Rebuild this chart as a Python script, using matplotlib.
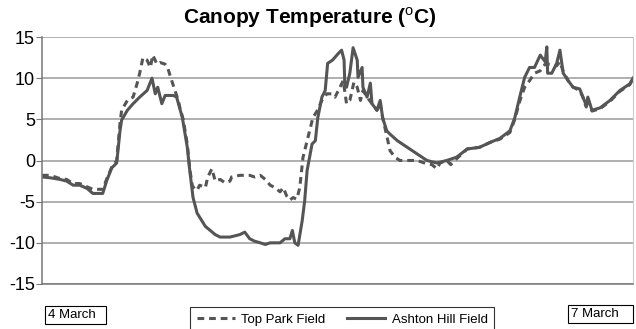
import numpy as np
import matplotlib
matplotlib.use("Agg")
from matplotlib import pyplot as plt

plt.rcParams["font.family"] = "Liberation Sans"
plt.rcParams["mathtext.fontset"] = "custom"
plt.rcParams["mathtext.rm"] = "Liberation Sans"
plt.rcParams["mathtext.bf"] = "Liberation Sans:bold"
plt.rcParams["axes.unicode_minus"] = False

# hours from 4 March 00:00
ashton_t = [0, 1.0, 2.2, 3.0, 3.8, 4.6, 5.5, 6.2, 7.1, 7.4, 7.9, 8.5, 9.1, 9.5, 9.7,
            10.4, 11.1, 11.9, 12.8, 13.4, 13.8, 14.1, 14.6, 15.0, 16.0, 16.4, 17.1,
            17.7, 18.0, 18.4, 18.9, 19.9, 20.5, 21.1, 21.7, 22.9, 24.1, 24.7, 25.3,
            25.9, 26.6, 27.2, 27.8, 29.0, 29.6, 30.2, 30.5, 30.8, 31.2, 31.7, 32.0,
            32.3, 32.9, 33.3, 33.6, 34.1, 34.5, 34.8, 35.4, 36.1, 36.5, 36.8, 36.9,
            37.1, 37.5, 37.9, 38.4, 38.5, 39.0, 39.1, 39.6, 40.0, 40.2, 40.8, 41.2,
            41.5, 42.0, 42.4, 43.3, 44.5, 45.7, 46.9, 48.1, 49.3, 50.5, 51.8, 53.3,
            54.6, 55.8, 57.0, 57.6, 58.2, 58.8, 59.4, 60.0, 60.7, 61.3, 61.5, 61.6,
            62.1, 62.7, 63.1, 63.5, 64.1, 64.7, 65.5, 65.9, 66.3, 66.5, 67.0, 68.0,
            69.2, 70.4, 71.6, 72.0]
ashton = [-2.0, -2.1, -2.3, -2.5, -3.0, -3.0, -3.4, -4.0, -4.0, -4.0, -2.4, -0.9, -0.3, 3.6, 4.9,
          6.1, 6.9, 7.7, 8.5, 10.0, 8.1, 8.9, 6.9, 7.9, 7.9, 7.7, 5.2,
          1.6, -1.2, -4.5, -6.4, -8.0, -8.5, -9.0, -9.3, -9.3, -9.0, -8.7, -9.5,
          -9.8, -10.0, -10.2, -10.0, -10.0, -9.5, -9.5, -8.5, -10.0, -10.3, -7.3, -4.9,
          -1.2, 2.0, 2.4, 5.2, 7.7, 8.5, 11.8, 12.2, 13.0, 13.4, 12.2, 8.9,
          8.9, 10.6, 13.7, 12.2, 10.1, 11.3, 8.9, 7.7, 9.4, 6.9, 6.1, 7.3,
          5.2, 3.6, 3.2, 2.4, 1.6, 0.8, 0.0, -0.3, 0.0, 0.4, 1.4, 1.6,
          2.2, 2.7, 3.6, 5.2, 7.7, 10.1, 11.3, 11.3, 12.8, 12.0, 13.8, 10.6,
          10.6, 11.8, 13.4, 10.6, 9.7, 8.9, 8.7, 7.7, 6.7, 7.7, 6.1, 6.4,
          7.3, 8.5, 9.3, 10.0]

toppark_t = [0, 1.0, 2.2, 3.0, 3.8, 4.6, 5.5, 6.2, 7.1, 7.4, 7.9, 8.5, 9.1, 9.5, 9.7,
             10.4, 11.1, 11.6, 11.9, 12.3, 12.8, 13.2, 13.5, 14.0, 14.4, 15.0, 15.3,
             15.8, 16.2, 16.6, 16.8, 17.2, 17.7, 18.0, 18.3, 18.6, 18.9, 19.2, 19.9,
             20.2, 20.7, 21.1, 21.7, 22.3, 22.9, 23.1, 24.1, 25.3, 25.9, 26.6, 27.2,
             27.8, 28.4, 29.0, 29.4, 29.8, 30.2, 30.6, 31.0, 31.1, 31.4, 31.8, 32.3,
             32.6, 33.0, 33.5, 34.1, 34.7, 35.3, 35.7, 36.1, 36.7, 37.1, 37.5, 38.0,
             38.4, 38.8, 39.1, 39.6, 40.2, 40.8, 41.2, 41.5, 42.0, 42.4, 43.0, 43.6,
             44.5, 45.7, 46.9, 47.5, 48.1, 48.5, 49.3, 49.8, 50.5, 51.8, 53.3, 54.6,
             55.8, 57.0, 57.6, 58.2, 58.8, 59.4, 60.0, 60.7, 61.3, 62.1, 62.7, 63.1,
             63.5, 64.1, 64.7, 65.5, 65.9, 66.3, 66.5, 67.0, 68.0, 69.2, 70.4, 71.6,
             72.0]
toppark = [-1.8, -1.8, -2.2, -2.3, -2.8, -2.8, -3.2, -3.5, -3.5, -3.5, -2.2, -0.8, 0.0, 4.5, 6.1,
           7.3, 7.7, 9.4, 10.6, 12.5, 12.2, 11.3, 12.8, 11.7, 11.9, 11.7, 11.3,
           9.7, 8.5, 7.3, 6.4, 5.0, 2.0, -1.0, -3.0, -3.5, -3.6, -3.0, -3.3,
           -2.0, -1.0, -2.5, -2.3, -2.7, -2.5, -2.0, -1.8, -1.8, -2.0, -1.8, -2.3,
           -3.0, -3.3, -3.8, -3.3, -4.3, -4.8, -4.5, -4.7, -4.5, -3.3, 0.4, 2.4,
           3.6, 5.2, 6.0, 7.3, 8.1, 8.1, 7.7, 8.5, 9.7, 6.9, 7.3, 9.5,
           8.9, 7.3, 8.5, 7.7, 6.9, 6.1, 7.0, 5.2, 3.0, 1.2, 0.4, 0.0,
           0.0, 0.0, -0.4, -0.5, -1.0, -0.3, 0.0, -0.5, 0.2, 1.4, 1.6, 2.2,
           2.6, 3.4, 5.0, 7.2, 8.9, 9.7, 10.6, 10.9, 11.7, 11.7, 11.5, 12.0,
           10.8, 9.7, 8.9, 8.5, 7.7, 6.5, 7.5, 6.0, 6.3, 7.2, 8.4, 9.2,
           9.9]

yticks = [-15, -10, -5, 0, 5, 10, 15]
line_col = "#555555"

fig = plt.figure(figsize=(6.36, 3.29), dpi=100)
ax = fig.add_axes([42/636, 1 - 284/329, 591/636, 247/329])

for y in yticks:
    ax.axhline(y, color="#9a9a9a", lw=1.1, zorder=0)

ax.plot(toppark_t, toppark, color=line_col, lw=2.2, ls=(0, (2.2, 1.6)),
        label="Top Park Field")
ax.plot(ashton_t, ashton, color=line_col, lw=2.2, label="Ashton Hill Field")

ax.set_xlim(0, 72)
ax.set_ylim(-15, 15)
ax.set_yticks(yticks)
ax.set_xticks([])
ax.tick_params(axis="y", labelsize=13, length=4, color="#777777", pad=1)
ax.spines["top"].set_visible(False)
ax.spines["left"].set_color("#777777")
ax.spines["bottom"].set_color("#777777")
ax.spines["right"].set_color("#cccccc")
ax.spines["left"].set_linewidth(1.1)
ax.spines["bottom"].set_linewidth(1.1)

fig.text(0.487, 0.945, r"Canopy Temperature ($^{\mathrm{o}}$C)", ha="center",
         va="center", fontsize=15, fontweight="bold")

box = dict(boxstyle="square,pad=0.25", fc="white", ec="black", lw=0.8)
fig.text(48/636, 1 - 315/329, "4 March  ", fontsize=9.5, va="center", bbox=box)
fig.text(571/636, 1 - 314/329, "7 March   ", fontsize=9.5, va="center", bbox=box)

leg = fig.legend(loc="upper left", bbox_to_anchor=(190/636, 1 - 307/329), ncol=2,
                 fontsize=9.5, frameon=True, fancybox=False, edgecolor="black",
                 borderaxespad=0, borderpad=0.5, handlelength=2.9, columnspacing=1.6,
                 handletextpad=0.5)
leg.get_frame().set_linewidth(0.8)

fig.savefig("out.png", dpi=100)
